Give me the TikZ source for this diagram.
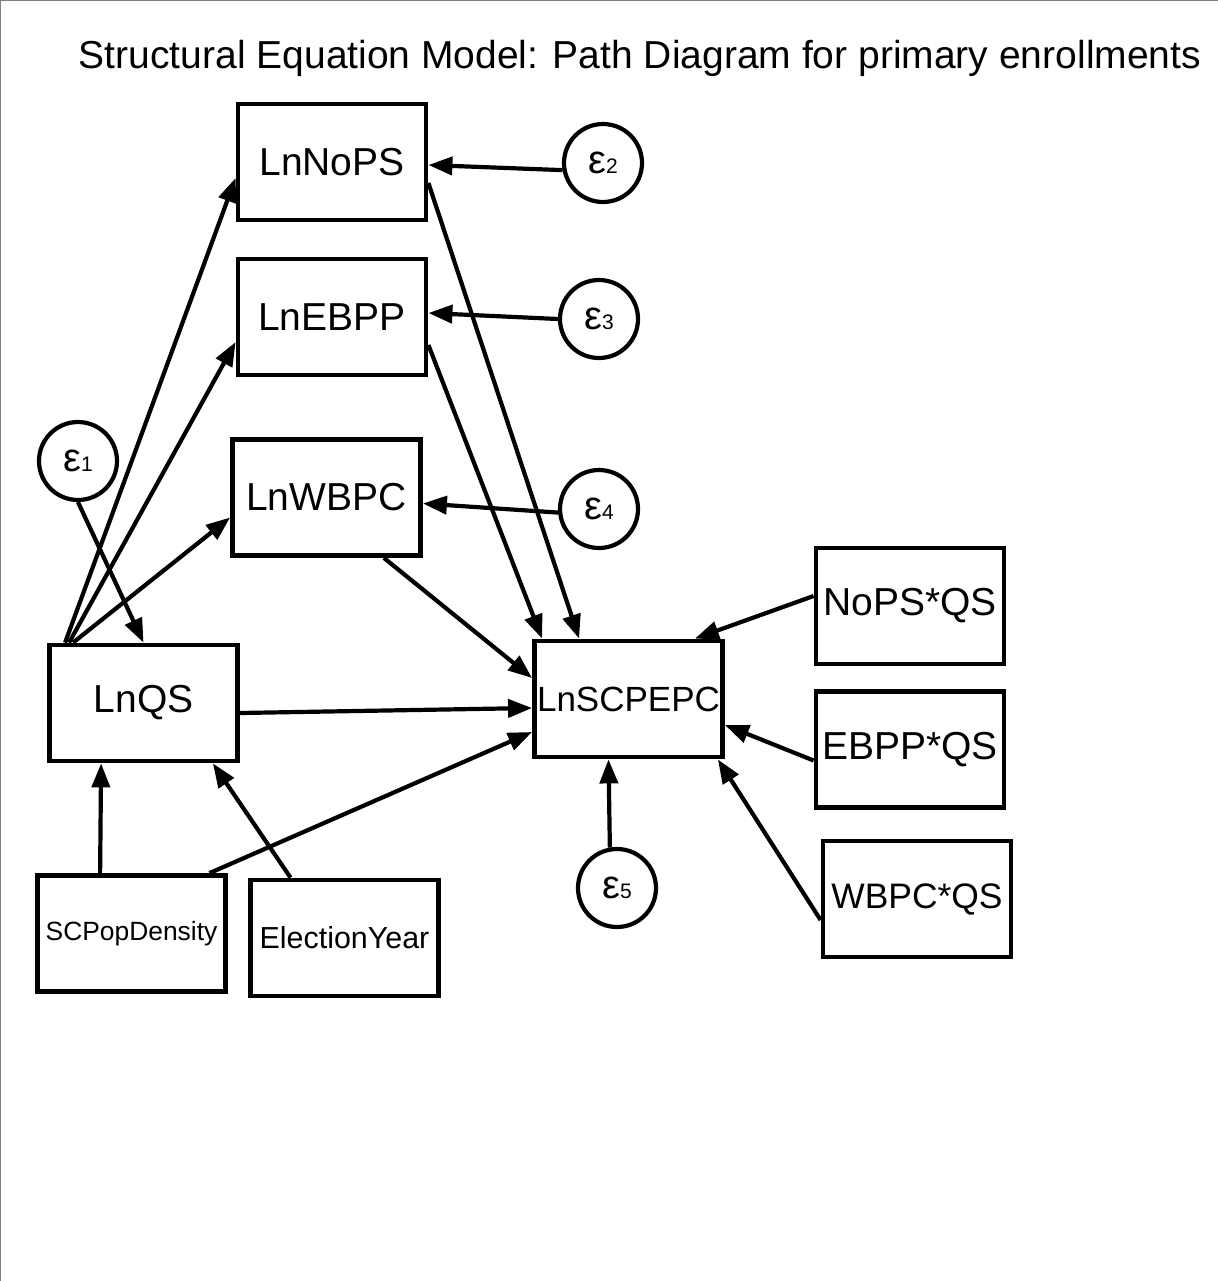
\documentclass[tikz,border=0pt]{standalone}
\usepackage{fontspec}
\setmainfont{Liberation Sans}
\usetikzlibrary{arrows.meta,calc}

\begin{document}
\begin{tikzpicture}[x=0.5pt, y=-0.5pt,
        var/.style={shape=rectangle,draw=black,line width=2.4pt,minimum width=94pt,minimum height=58pt,inner sep=0pt,font=\fontsize{19.5}{22}\selectfont},
        err/.style={shape=circle,draw=black,line width=2.1pt,minimum size=39pt,inner sep=0pt,font=\fontsize{20}{22}\selectfont},
        link/.style={-{Triangle[length=12pt,width=9pt]},line width=2.1pt}]
        \useasboundingbox (0,0) rectangle (1218,1281);
        \draw[gray,line width=0.5pt] (0.5,1281) -- (0.5,0.5) -- (1218,0.5);

        \node[font=\fontsize{19.5}{22}\selectfont,anchor=base] (title) at (640,68) {Structural Equation Model: Path Diagram for primary enrollments};

        \node[var] (lnnops) at (332,162) {LnNoPS};
        \node[var] (lnebpp) at (332,317) {LnEBPP};
        \node[var] (lnwbpc) at (326.5,497.5) {LnWBPC};
        \node[var] (lnqs) at (143.5,703) {LnQS};
        \node[var,font=\fontsize{17.5}{20}\selectfont] (lnscpepc) at (628.5,699) {LnSCPEPC};
        \node[var] (nopsqs) at (910,606) {NoPS*QS};
        \node[var] (ebppqs) at (910,749.5) {EBPP*QS};
        \node[var,font=\fontsize{17.7}{20}\selectfont] (wbpcqs) at (917,899) {WBPC*QS};
        \node[var,font=\fontsize{13.2}{15}\selectfont] (popdens) at (131.5,933.5) {SCPopDensity};
        \node[var,font=\fontsize{15.2}{17}\selectfont] (elyear) at (344.5,938) {ElectionYear};

        \node[err] (e1) at (78,461) {ε{\fontsize{10.5}{12}\selectfont 1}};
        \node[err] (e2) at (603,163) {ε{\fontsize{10.5}{12}\selectfont 2}};
        \node[err] (e3) at (599,319) {ε{\fontsize{10.5}{12}\selectfont 3}};
        \node[err] (e4) at (599,509) {ε{\fontsize{10.5}{12}\selectfont 4}};
        \node[err] (e5) at (617,888) {ε{\fontsize{10.5}{12}\selectfont 5}};

        \draw[link] ($(lnqs.north west)+(18,0)$) -- ($(lnnops.west)+(0,16)$);
        \draw[link] ($(lnqs.north west)+(22,0)$) -- ($(lnebpp.west)+(0,25)$);
        \draw[link] ($(lnqs.north west)+(26,0)$) -- ($(lnwbpc.west)+(0,20)$);
        \draw[link] (e1.south) -- (lnqs.north);
        \draw[link] (e2.190) -- ($(lnnops.east)+(0,3)$);
        \draw[link] (e3.west) -- ($(lnebpp.east)+(0,-4)$);
        \draw[link] (e4.185) -- ($(lnwbpc.east)+(0,6)$);
        \draw[link] ($(lnnops.east)+(0,21)$) -- ($(lnscpepc.north west)+(47,0)$);
        \draw[link] ($(lnebpp.east)+(0,28)$) -- ($(lnscpepc.north west)+(10,0)$);
        \draw[link] ($(lnwbpc.south east)+(-39,0)$) -- ($(lnscpepc.west)+(0,-21)$);
        \draw[link] ($(lnqs.east)+(0,10)$) -- ($(lnscpepc.west)+(0,9)$);
        \draw[link] ($(popdens.north)+(78,0)$) -- ($(lnscpepc.west)+(0,33)$);
        \draw[link] ($(popdens.north west)+(65,0)$) -- ($(lnqs.south west)+(54,0)$);
        \draw[link] ($(elyear.north)+(-54,0)$) -- ($(lnqs.south east)+(-27,0)$);
        \draw[link] ($(nopsqs.west)+(0,-10)$) -- ($(lnscpepc.north east)+(-30,0)$);
        \draw[link] ($(ebppqs.west)+(0,11)$) -- ($(lnscpepc.east)+(0,26)$);
        \draw[link] ($(wbpcqs.west)+(0,21)$) -- ($(lnscpepc.south east)+(-7,0)$);
        \draw[link] (e5.100) -- ($(lnscpepc.south)+(-20,0)$);
    \end{tikzpicture}
\end{document}
